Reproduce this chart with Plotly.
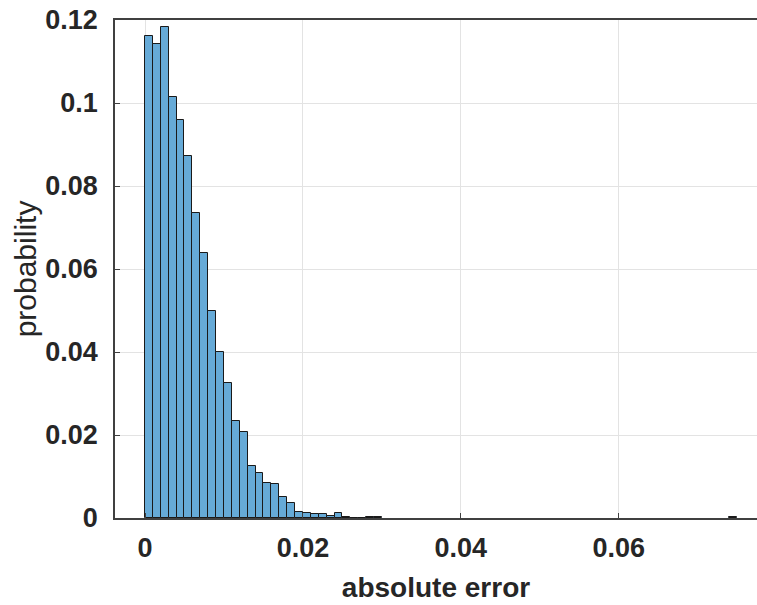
import plotly.graph_objects as go

# Histogram data (bin width 0.001, starting at 0)
bin_start = 0.0
bin_width = 0.001
probabilities = [
    0.1162, 0.1142, 0.1183, 0.1015, 0.0959, 0.0872, 0.0735, 0.0639, 0.0499, 0.0401,
    0.0325, 0.0234, 0.0207, 0.0125, 0.0109, 0.0084, 0.0082, 0.0050, 0.0035, 0.00145,
    0.0011, 0.0009, 0.0009, 0.0006, 0.0013, 0.0003, 0.0001, 0.00004, 0.0003, 0.0003,
    0, 0, 0, 0, 0, 0, 0, 0, 0, 0,
    0, 0, 0, 0, 0, 0, 0, 0, 0, 0,
    0, 0, 0, 0, 0, 0, 0, 0, 0, 0,
    0, 0, 0, 0, 0, 0, 0, 0, 0, 0,
    0, 0, 0, 0, 0.0002,
]
x_ticks = [0, 0.02, 0.04, 0.06]
x_tick_labels = ["0", "0.02", "0.04", "0.06"]
y_ticks = [0, 0.02, 0.04, 0.06, 0.08, 0.1, 0.12]
y_tick_labels = ["0", "0.02", "0.04", "0.06", "0.08", "0.1", "0.12"]

centers = [bin_start + (i + 0.5) * bin_width for i in range(len(probabilities))]
heights = [p if p > 0 else None for p in probabilities]

fig = go.Figure(go.Bar(
    x=centers, y=heights, width=bin_width,
    marker=dict(color="#66AAD7", line=dict(color="#1a1a1a", width=1)),
))

fig.update_layout(
    width=757, height=605,
    margin=dict(l=115, r=0, t=20, b=87),
    paper_bgcolor="white", plot_bgcolor="white",
    bargap=0, showlegend=False,
    font=dict(family="Liberation Sans"),
)
fig.update_xaxes(
    automargin=False,
    range=[-0.0038, 0.0775], tickvals=x_ticks, ticktext=x_tick_labels,
    tickfont=dict(family="Liberation Sans", size=27, color="#262626", weight="bold"),
    showgrid=True, gridcolor="#E3E3E3", gridwidth=1,
    showline=True, linecolor="#404040", linewidth=1.5, mirror=True,
    ticks="inside", ticklen=5, tickcolor="#404040", zeroline=False,
    ticklabelstandoff=5,
    title=dict(text="absolute error", standoff=15,
               font=dict(family="Liberation Sans", size=28, color="#262626", weight="bold")),
)
fig.update_yaxes(
    automargin=False,
    range=[0, 0.12], tickvals=y_ticks, ticktext=y_tick_labels,
    tickfont=dict(family="Liberation Sans", size=27, color="#262626", weight="bold"),
    showgrid=True, gridcolor="#E3E3E3", gridwidth=1,
    showline=True, linecolor="#404040", linewidth=1.5, mirror=True,
    ticks="inside", ticklen=5, tickcolor="#404040", zeroline=False,
    ticklabelstandoff=10,
    title=dict(text="probability", standoff=0,
               font=dict(family="Liberation Sans", size=30, color="#262626")),
)
fig.write_html(
    "out.html",
    config={"displayModeBar": False},
    post_script="document.body.style.margin='0';document.body.style.overflow='hidden';",
)
